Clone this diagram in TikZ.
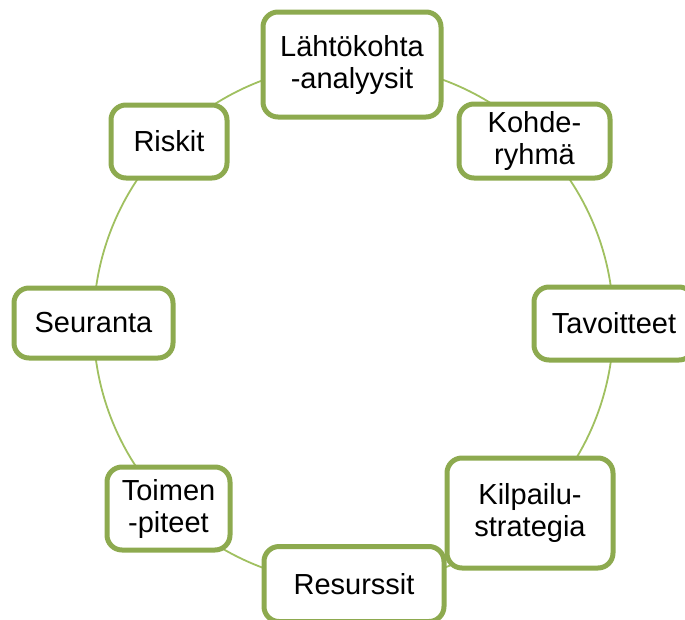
\documentclass[tikz,border=0pt]{standalone}
\usepackage{fontspec}
\setmainfont{Liberation Sans}
\definecolor{boxgreen}{RGB}{141,170,79}
\definecolor{ringgreen}{RGB}{160,192,96}
\begin{document}
\begin{tikzpicture}[x=1pt,y=-1pt,
  stepbox/.style={draw=boxgreen, line width=5pt, rounded corners=15pt, fill=white,
    inner sep=0pt, align=center, text=black,
    font=\fontsize{29}{32}\selectfont},
  ring/.style={draw=ringgreen, line width=1.8pt, circle, inner sep=0pt, minimum size=520pt}]
\useasboundingbox (0,0) rectangle (685,619);
\node[ring] (ringc) at (353.5,324) {};
\node[stepbox, minimum width=178pt, minimum height=105pt] (lahto) at (352,64.5) {Lähtökohta\\-analyysit};
\node[stepbox, minimum width=151pt, minimum height=74pt] (kohde) at (534.5,141) {Kohde-\\ryhmä};
\node[stepbox, minimum width=160pt, minimum height=73pt] (tavo) at (614,323.5) {Tavoitteet};
\node[stepbox, minimum width=166pt, minimum height=110pt] (kilp) at (530,513) {Kilpailu-\\strategia};
\node[stepbox, minimum width=123pt, minimum height=83pt] (toim) at (168.5,508.5) {Toimen\\-piteet};
\node[stepbox, minimum width=180pt, minimum height=75pt] (resu) at (354,584) {Resurssit};
\node[stepbox, minimum width=159pt, minimum height=70pt] (seur) at (93.5,323) {Seuranta};
\node[stepbox, minimum width=116pt, minimum height=73pt] (risk) at (169,141.5) {Riskit};
\end{tikzpicture}
\end{document}
